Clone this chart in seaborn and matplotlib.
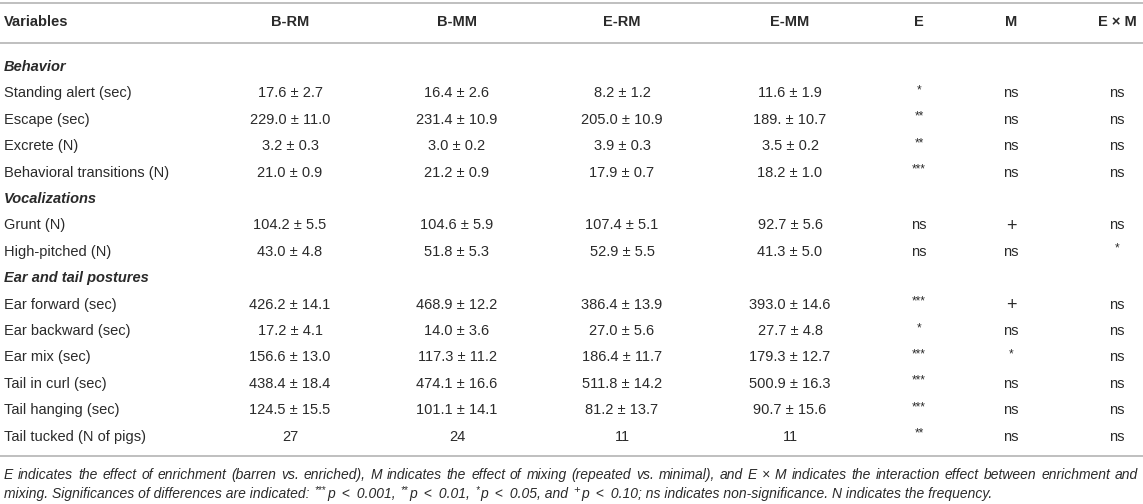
import numpy as np
import pandas as pd
import matplotlib
matplotlib.use("Agg")
import matplotlib.pyplot as plt
import seaborn as sns

# ---- table content ----
columns = ["Variables", "B-RM", "B-MM", "E-RM", "E-MM", "E", "M", "E × M"]
groups = ["Behavior", "Vocalizations", "Ear and tail postures"]
group_sizes = [4, 2, 6]
variables = [
    "Standing alert (sec)", "Escape (sec)", "Excrete (N)", "Behavioral transitions (N)",
    "Grunt (N)", "High-pitched (N)",
    "Ear forward (sec)", "Ear backward (sec)", "Ear mix (sec)", "Tail in curl (sec)",
    "Tail hanging (sec)", "Tail tucked (N of pigs)",
]
b_rm_mean = ["17.6", "229.0", "3.2", "21.0", "104.2", "43.0", "426.2", "17.2", "156.6", "438.4", "124.5", "27"]
b_rm_se = ["2.7", "11.0", "0.3", "0.9", "5.5", "4.8", "14.1", "4.1", "13.0", "18.4", "15.5", None]
b_mm_mean = ["16.4", "231.4", "3.0", "21.2", "104.6", "51.8", "468.9", "14.0", "117.3", "474.1", "101.1", "24"]
b_mm_se = ["2.6", "10.9", "0.2", "0.9", "5.9", "5.3", "12.2", "3.6", "11.2", "16.6", "14.1", None]
e_rm_mean = ["8.2", "205.0", "3.9", "17.9", "107.4", "52.9", "386.4", "27.0", "186.4", "511.8", "81.2", "11"]
e_rm_se = ["1.2", "10.9", "0.3", "0.7", "5.1", "5.5", "13.9", "5.6", "11.7", "14.2", "13.7", None]
e_mm_mean = ["11.6", "189.", "3.5", "18.2", "92.7", "41.3", "393.0", "27.7", "179.3", "500.9", "90.7", "11"]
e_mm_se = ["1.9", "10.7", "0.2", "1.0", "5.6", "5.0", "14.6", "4.8", "12.7", "16.3", "15.6", None]
sig_e = ["*", "**", "**", "***", "ns", "ns", "***", "*", "***", "***", "***", "**"]
sig_m = ["ns", "ns", "ns", "ns", "+", "ns", "+", "ns", "*", "ns", "ns", "ns"]
sig_exm = ["ns", "ns", "ns", "ns", "ns", "*", "ns", "ns", "ns", "ns", "ns", "ns"]

footnote_1 = ("E indicates the effect of enrichment (barren vs. enriched), M indicates the effect of "
              "mixing (repeated vs. minimal), and E × M indicates the interaction effect between enrichment and")
# (text, superscript?) pieces of the second footnote line
sp = "\u2002"
footnote_2 = [
    ("mixing. Significances of differences are indicated: ", False), ("***", True),
    (f"p{sp}<{sp}0.001, ", False), ("**", True), (f"p{sp}<{sp}0.01, ", False), ("*", True),
    (f"p{sp}<{sp}0.05, and ", False), ("+", True),
    (f"p{sp}<{sp}0.10; ns indicates non-significance. N indicates the frequency.", False),
]


def cell(mean, se):
    return mean if se is None else f"{mean} ± {se}"


records = []
start = 0
for g, n in zip(groups, group_sizes):
    records.append({"kind": "group", "label": g})
    for i in range(start, start + n):
        records.append({
            "kind": "var", "label": variables[i],
            "B-RM": cell(b_rm_mean[i], b_rm_se[i]),
            "B-MM": cell(b_mm_mean[i], b_mm_se[i]),
            "E-RM": cell(e_rm_mean[i], e_rm_se[i]),
            "E-MM": cell(e_mm_mean[i], e_mm_se[i]),
            "E": sig_e[i], "M": sig_m[i], "E × M": sig_exm[i],
        })
    start += n
table = pd.DataFrame(records)

# ---- layout (pixel space) ----
W, H = 1143, 504
col_x = [4, 290, 457, 622, 790, 919, 1011, 1117]
right_edge = 1138
header_y = 22
first_row_y = 67
row_step = 26.4
rules_y = [3, 43, 456]
foot_y = [479, 498]
text_color = "#2a2a2a"
rule_color = "#b4b4b4"
fs = 10.5
foot_fs = 10.0

sns.set_theme(style="white")
plt.rcParams["font.family"] = ["Liberation Sans", "DejaVu Sans"]

fig = plt.figure(figsize=(W / 100, H / 100), dpi=100)
ax = fig.add_axes([0, 0, 1, 1])
ax.set_xlim(0, W)
ax.set_ylim(H, 0)
ax.set_axis_off()
renderer = fig.canvas.get_renderer()

for y in rules_y:
    ax.axhline(y, color=rule_color, lw=1.2)

for j, c in enumerate(columns):
    ax.text(col_x[j], header_y, c, ha="left" if j == 0 else "center", va="center",
            fontsize=fs, fontweight="bold", color=text_color)

for r, row in table.iterrows():
    y = first_row_y + r * row_step
    if row["kind"] == "group":
        ax.text(col_x[0], y, row["label"], ha="left", va="center", fontsize=fs,
                fontweight="bold", fontstyle="italic", color=text_color)
        continue
    ax.text(col_x[0], y, row["label"], ha="left", va="center", fontsize=fs, color=text_color)
    for j, c in enumerate(columns[1:], start=1):
        val = row[c]
        if val.startswith("*"):
            ax.text(col_x[j], y - 3, val, ha="center", va="center", fontsize=8.5, color=text_color)
        elif val == "+":
            ax.text(col_x[j], y + 1, val, ha="center", va="center", fontsize=13,
                    fontweight="light", color=text_color)
        else:
            ax.text(col_x[j], y, val, ha="center", va="center", fontsize=fs, color=text_color)


def width_px(t):
    bb = t.get_window_extent(renderer)
    return bb.x1 - bb.x0


# footnote line 1: justified across the full table width
words = footnote_1.split(" ")
word_texts = [ax.text(0, foot_y[0], w, ha="left", va="baseline", fontsize=foot_fs,
                      fontstyle="italic", color=text_color) for w in words]
widths = [width_px(t) for t in word_texts]
gap = (right_edge - col_x[0] - sum(widths)) / (len(words) - 1)
x = col_x[0]
for t, w in zip(word_texts, widths):
    t.set_x(x)
    x += w + gap

# footnote line 2: run of normal and superscript pieces
x = col_x[0]
for txt, sup in footnote_2:
    if sup:
        size = 7 if txt.startswith("*") else 8
        t = ax.text(x + 1, foot_y[1] - 5, txt, ha="left", va="baseline", fontsize=size,
                    fontstyle="italic", color=text_color)
    else:
        t = ax.text(x, foot_y[1], txt, ha="left", va="baseline", fontsize=foot_fs,
                    fontstyle="italic", color=text_color)
    bb = t.get_window_extent(renderer)
    x = bb.x1 + (1.5 if sup else 0)

fig.savefig("out.png", dpi=100)
